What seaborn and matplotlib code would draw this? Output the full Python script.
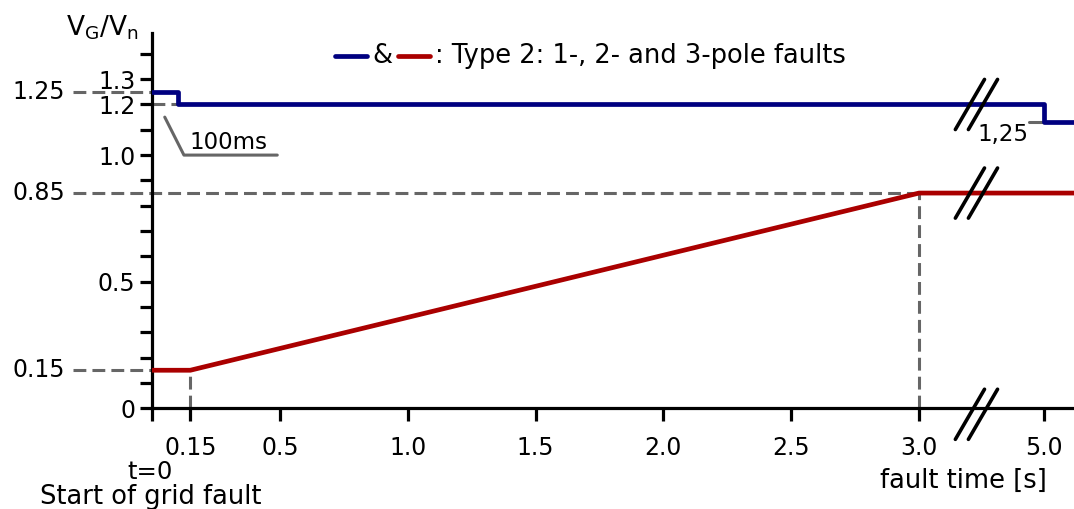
import matplotlib
matplotlib.use("Agg")
import matplotlib.pyplot as plt
import numpy as np
import pandas as pd
import seaborn as sns

# Data (x is the plotted time position; the axis is broken after 3.0 s, 5.0 s sits at 3.49)
t_blue = [0.0, 0.1, 0.1, 3.49, 3.49, 3.606]
v_blue = [1.25, 1.25, 1.2, 1.2, 1.13, 1.13]
t_red = [0.0, 0.15, 3.0, 3.606]
v_red = [0.15, 0.15, 0.85, 0.85]

x_ticks = [0.0, 0.15, 0.5, 1.0, 1.5, 2.0, 2.5, 3.0, 3.49]
x_labels = ["", "0.15", "0.5", "1.0", "1.5", "2.0", "2.5", "3.0", "5.0"]
y_ticks = [round(0.1 * i, 1) for i in range(15)]
y_named = {0.0: "0", 0.5: "0.5", 1.0: "1.0", 1.2: "1.2", 1.3: "1.3"}
y_far = [1.25, 0.85, 0.15]
y_far_labels = ["1.25", "0.85", "0.15"]

BLUE = "#000080"
RED = "#aa0000"
GRAY = "#666666"
DASH = (0, (4.2, 2.0))

sns.set_style("ticks")
plt.rcParams["font.family"] = ["DejaVu Sans"]
plt.rcParams["mathtext.fontset"] = "dejavusans"
plt.rcParams["text.color"] = "black"
plt.rcParams["xtick.color"] = "black"
plt.rcParams["ytick.color"] = "black"
plt.rcParams["xtick.labelcolor"] = "black"
plt.rcParams["ytick.labelcolor"] = "black"

fig = plt.figure(figsize=(10.74, 5.09), dpi=100)
ax = fig.add_axes([0.1415, 0.198, 0.8585, 0.737])

df_blue = pd.DataFrame({"t": t_blue, "v": v_blue})
df_red = pd.DataFrame({"t": t_red, "v": v_red})

# guide lines (under the curves)
ax.plot([-0.309, 0.0], [1.25, 1.25], color=GRAY, lw=2.2, ls=DASH, clip_on=False)
ax.plot([0.0, 0.1], [1.2, 1.2], color=GRAY, lw=2.2, ls=DASH)
ax.plot([-0.309, 3.0], [0.85, 0.85], color=GRAY, lw=2.2, ls=DASH, clip_on=False)
ax.plot([-0.309, 0.0], [0.15, 0.15], color=GRAY, lw=2.2, ls=DASH, clip_on=False)
ax.plot([0.15, 0.15], [0.0, 0.15], color=GRAY, lw=2.2, ls=DASH)
ax.plot([3.0, 3.0], [0.0, 0.85], color=GRAY, lw=2.2, ls=DASH)

sns.lineplot(data=df_blue, x="t", y="v", sort=False, estimator=None,
             color=BLUE, lw=3.4, ax=ax, zorder=3)
sns.lineplot(data=df_red, x="t", y="v", sort=False, estimator=None,
             color=RED, lw=3.4, ax=ax, zorder=3)

ax.set_xlim(0, 3.606)
ax.set_ylim(0, 1.482)
sns.despine(ax=ax)
for s in ["left", "bottom"]:
    ax.spines[s].set_linewidth(2.3)
    ax.spines[s].set_color("black")

ax.set_xticks(x_ticks)
ax.set_xticklabels(x_labels, fontsize=17)
ax.set_yticks(y_ticks)
ax.set_yticklabels([y_named.get(v, "") for v in y_ticks], fontsize=17)
ax.tick_params(axis="x", direction="out", length=9, width=2.3, pad=11, color="black")
ax.tick_params(axis="y", direction="out", length=9, width=2.3, pad=3, color="black")
ax.set_xlabel("")
ax.set_ylabel("")

for v, lab in zip(y_far, y_far_labels):
    ax.text(-0.34, v, lab, fontsize=17, ha="right", va="center")

# 100 ms annotation
ax.plot([0.05, 0.125, 0.49], [1.15, 1.0, 1.0], color=GRAY, lw=2.2)
ax.text(0.148, 1.005, "100ms", fontsize=16.5, ha="left", va="bottom")

# value after 5 s
ax.plot([3.43, 3.49], [1.13, 1.13], color=GRAY, lw=2.2)
ax.text(3.33, 1.08, "1,25", fontsize=16.5, ha="center", va="center")

# axis break marks
for yc in [1.2, 0.85, -0.024]:
    for xc in [3.199, 3.25]:
        ax.plot([xc - 0.057, xc + 0.057], [yc - 0.099, yc + 0.099],
                color="black", lw=2.6, clip_on=False, zorder=4)

# header legend
ax.plot([0.716, 0.841], [1.391, 1.391], color=BLUE, lw=3.4, clip_on=False)
ax.text(0.862, 1.391, "&", fontsize=18.5, ha="left", va="center")
ax.plot([0.962, 1.087], [1.391, 1.391], color=RED, lw=3.4, clip_on=False)
ax.text(1.106, 1.391, ": Type 2: 1-, 2- and 3-pole faults", fontsize=18.5,
        ha="left", va="center")

fig.text(0.0615, 0.931, r"V$_\mathregular{G}$/V$_\mathregular{n}$", fontsize=19,
         ha="left", va="baseline")
fig.text(150 / 1074, 0.059, "t=0", fontsize=17.5, ha="center", va="baseline")
fig.text(151 / 1074, 0.0098, "Start of grid fault", fontsize=18.5, ha="center",
         va="baseline")
fig.text(963 / 1074, 0.0413, "fault time [s]", fontsize=18.5, ha="center",
         va="baseline")

fig.savefig("out.png", dpi=100)
